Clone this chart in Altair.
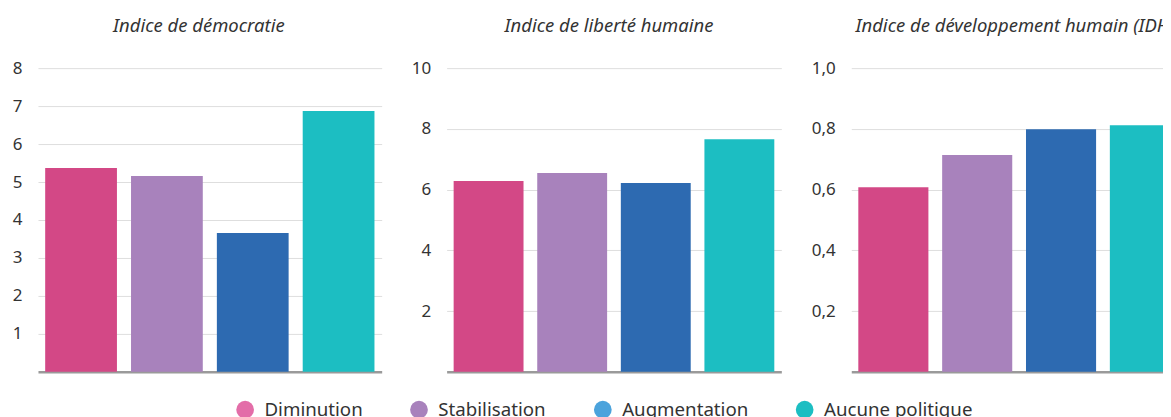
import altair as alt
import pandas as pd

categories = ["Diminution", "Stabilisation", "Augmentation", "Aucune politique"]
democratie = [5.37, 5.16, 3.66, 6.87]
liberte = [6.28, 6.55, 6.22, 7.66]
idh = [0.608, 0.714, 0.799, 0.812]

titles = ["Indice de démocratie", "Indice de liberté humaine",
          "Indice de développement humain (IDH)"]
ticks_dem = [1, 2, 3, 4, 5, 6, 7, 8]
ticks_lib = [2, 4, 6, 8, 10]
ticks_idh = [0.2, 0.4, 0.6, 0.8, 1.0]

bar_colors = ["#D34886", "#A882BC", "#2D6AB1", "#1CBEC2"]
legend_colors = ["#E36DA8", "#A882BC", "#4BA3DC", "#1CBEC2"]

FONT = "Noto Sans"
TXT = "#333333"


def panel(values, title, domain_max, ticks, width, dx, comma=False):
    df = pd.DataFrame({"categorie": categories, "valeur": values})
    x = alt.X("categorie:N", sort=categories,
              scale=alt.Scale(paddingInner=0.164, paddingOuter=0.084),
              axis=alt.Axis(labels=False, ticks=False, title=None,
                            domainColor="#9a9a9a", domainWidth=2.5, grid=False))
    axis_kw = dict(values=ticks, title=None, domain=False, ticks=False,
                   labelPadding=16, labelFont=FONT, labelFontSize=17,
                   labelColor=TXT, gridColor="#dedede", gridWidth=1)
    if comma:
        axis_kw["format"] = ".1f"
        axis_kw["labelExpr"] = "replace(datum.label, '.', ',')"
    else:
        axis_kw["format"] = "d"
    y = alt.Y("valeur:Q", scale=alt.Scale(domain=[0, domain_max], nice=False),
              axis=alt.Axis(**axis_kw))
    return alt.Chart(df).mark_bar().encode(
        x=x, y=y,
        fill=alt.Fill("categorie:N",
                      scale=alt.Scale(domain=categories, range=bar_colors),
                      legend=None),
    ).properties(
        width=width, height=304,
        title=alt.TitleParams(title, font=FONT, fontSize=18.5, fontStyle="italic",
                              fontWeight="normal", color=TXT, anchor="middle",
                              frame="group", dx=dx, offset=24),
    )


p1 = panel(democratie, titles[0], 8, ticks_dem, 344, -11)
p2 = panel(liberte, titles[1], 10, ticks_lib, 335, -5)
p3 = panel(idh, titles[2], 1.0, ticks_idh, 336, -4, comma=True)

legend_chart = alt.Chart(pd.DataFrame({"categorie": categories})).mark_circle(
    opacity=0
).encode(
    color=alt.Color(
        "categorie:N",
        scale=alt.Scale(domain=categories, range=legend_colors),
        legend=alt.Legend(
            orient="none", legendX=198, legendY=0,
            direction="horizontal", title=None,
            symbolType="circle", symbolSize=314, symbolOpacity=1,
            symbolStrokeWidth=0, labelFont=FONT, labelFontSize=18.7,
            labelColor=TXT, labelOffset=10, columnPadding=47,
        ),
    ),
).properties(width=1, height=1)

row = alt.hconcat(p1, p2, p3, spacing=29)

chart = alt.vconcat(row, legend_chart, spacing=25).configure(
    background="white"
).configure_view(
    strokeWidth=0, stroke="transparent"
).properties(
    padding={"left": 4, "top": 8, "right": -24, "bottom": 0}
).resolve_legend(color="independent").resolve_scale(color="independent")

chart.save("out.html", embed_options={"renderer": "svg", "actions": False})
